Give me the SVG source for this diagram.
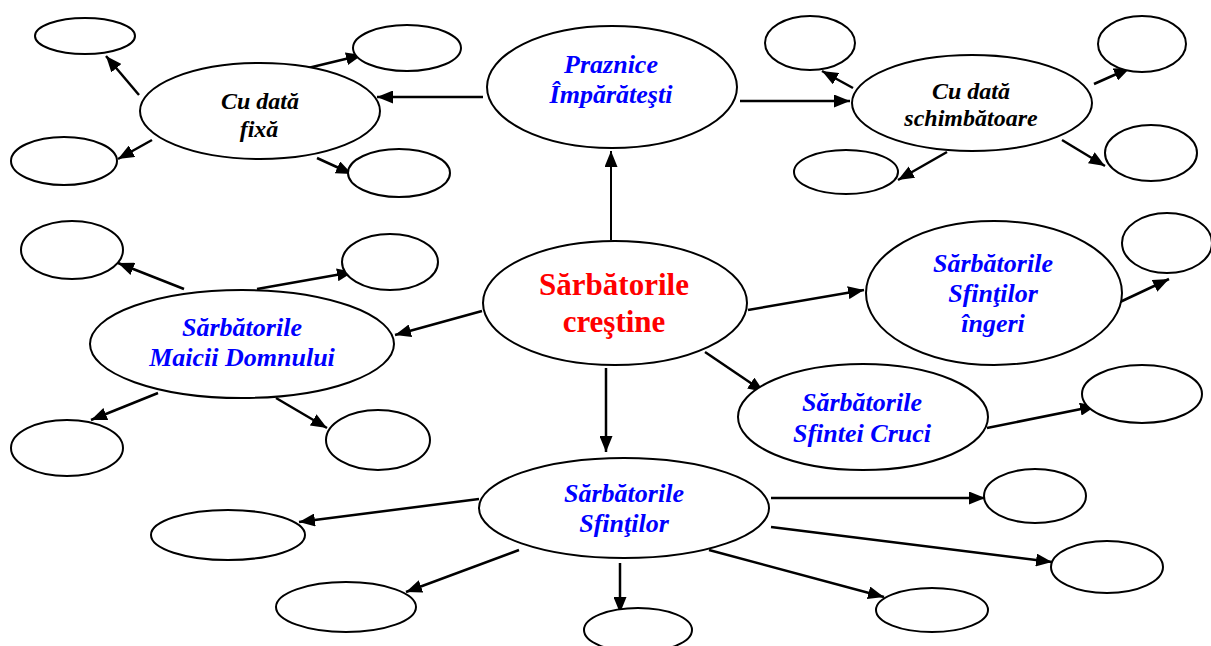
<svg xmlns="http://www.w3.org/2000/svg" width="1211" height="646" viewBox="0 0 1211 646">
<style>
.n{fill:#fff;stroke:#000;stroke-width:2}
.c line{stroke:#000;stroke-width:2.5;marker-end:url(#ah)}
text{font-family:"Liberation Serif","Times New Roman",serif;font-weight:bold;text-anchor:middle}
.b{font-style:italic;font-size:26px;fill:#0000ff}
.k{font-style:italic;font-size:24px;fill:#000}
.r{font-size:31px;fill:#ff0000}
</style>
<defs>
<marker id="ah" markerUnits="userSpaceOnUse" markerWidth="16" markerHeight="13" refX="16" refY="6.5" orient="auto">
<path d="M0,0 L16,6.5 L0,13 z" fill="#000"/>
</marker>
</defs>
<rect width="1211" height="646" fill="#fff"/>
<g id="connectors" class="c">
<line x1="483" y1="97" x2="377" y2="97"/>
<line x1="740" y1="101" x2="850" y2="101"/>
<line x1="611" y1="240" x2="611" y2="151" style="stroke-width:2"/>
<line x1="139" y1="95" x2="106" y2="56"/>
<line x1="308" y1="68" x2="362" y2="55"/>
<line x1="152" y1="140" x2="118" y2="159"/>
<line x1="317" y1="158" x2="352" y2="174"/>
<line x1="853" y1="88" x2="822" y2="71"/>
<line x1="1094" y1="84" x2="1130" y2="68"/>
<line x1="947" y1="152" x2="898" y2="180"/>
<line x1="1062" y1="140" x2="1105" y2="166"/>
<line x1="482" y1="311" x2="395" y2="335"/>
<line x1="184" y1="289" x2="118" y2="263"/>
<line x1="257" y1="289" x2="353" y2="272"/>
<line x1="158" y1="393" x2="91" y2="420"/>
<line x1="276" y1="398" x2="327" y2="428"/>
<line x1="748" y1="310" x2="864" y2="290"/>
<line x1="705" y1="352" x2="764" y2="392"/>
<line x1="606" y1="368" x2="606" y2="452"/>
<line x1="1120" y1="302" x2="1169" y2="279"/>
<line x1="987" y1="428" x2="1096" y2="406"/>
<line x1="479" y1="499" x2="299" y2="522"/>
<line x1="519" y1="550" x2="406" y2="592"/>
<line x1="620" y1="563" x2="620" y2="613"/>
<line x1="709" y1="550" x2="884" y2="597"/>
<line x1="771" y1="498" x2="985" y2="498"/>
<line x1="771" y1="527" x2="1052" y2="562"/>
</g>
<g id="praznice"><ellipse class="n" cx="612" cy="87" rx="125" ry="61"/><text class="b" x="611" y="73">Praznice</text><text class="b" x="611" y="103">Împărăteşti</text></g>
<g id="fixa"><ellipse class="n" cx="260" cy="111" rx="120" ry="48"/><text class="k" x="260" y="109">Cu dată</text><text class="k" x="259" y="137">fixă</text></g>
<g id="schimb"><ellipse class="n" cx="972" cy="103" rx="120" ry="48"/><text class="k" x="971" y="99">Cu dată</text><text class="k" x="971" y="126">schimbătoare</text></g>
<g id="crestine"><ellipse class="n" cx="615" cy="303" rx="132" ry="62"/><text class="r" x="614" y="295">Sărbătorile</text><text class="r" x="614" y="332">creştine</text></g>
<g id="ingeri"><ellipse class="n" cx="994" cy="293" rx="128" ry="72"/><text class="b" x="993" y="272">Sărbătorile</text><text class="b" x="993" y="302">Sfinţilor</text><text class="b" x="993" y="332">îngeri</text></g>
<g id="cruci"><ellipse class="n" cx="863" cy="417" rx="125" ry="53"/><text class="b" x="862" y="411">Sărbătorile</text><text class="b" x="862" y="442">Sfintei Cruci</text></g>
<g id="maicii"><ellipse class="n" cx="242" cy="344" rx="152" ry="54"/><text class="b" x="242" y="336">Sărbătorile</text><text class="b" x="242" y="366">Maicii Domnului</text></g>
<g id="sfintilor"><ellipse class="n" cx="624" cy="508" rx="145" ry="50"/><text class="b" x="624" y="502">Sărbătorile</text><text class="b" x="624" y="532">Sfinţilor</text></g>
<g id="e1"><ellipse class="n" cx="85" cy="36" rx="50" ry="18"/></g>
<g id="e2"><ellipse class="n" cx="407" cy="48" rx="54" ry="23"/></g>
<g id="e3"><ellipse class="n" cx="64" cy="161" rx="53" ry="24"/></g>
<g id="e4"><ellipse class="n" cx="399" cy="173" rx="51" ry="24"/></g>
<g id="e5"><ellipse class="n" cx="810" cy="43" rx="45" ry="27"/></g>
<g id="e6"><ellipse class="n" cx="1142" cy="44" rx="44" ry="28"/></g>
<g id="e7"><ellipse class="n" cx="1151" cy="153" rx="46" ry="28"/></g>
<g id="e8"><ellipse class="n" cx="846" cy="172" rx="52" ry="22"/></g>
<g id="e9"><ellipse class="n" cx="72" cy="250" rx="51" ry="29"/></g>
<g id="e10"><ellipse class="n" cx="390" cy="262" rx="48" ry="28"/></g>
<g id="e11"><ellipse class="n" cx="67" cy="448" rx="56" ry="28"/></g>
<g id="e12"><ellipse class="n" cx="378" cy="440" rx="52" ry="30"/></g>
<g id="e13"><ellipse class="n" cx="1167" cy="243" rx="45" ry="30"/></g>
<g id="e14"><ellipse class="n" cx="1142" cy="394" rx="60" ry="29"/></g>
<g id="e15"><ellipse class="n" cx="228" cy="535" rx="77" ry="25"/></g>
<g id="e16"><ellipse class="n" cx="346" cy="607" rx="70" ry="25"/></g>
<g id="e17"><ellipse class="n" cx="638" cy="630" rx="54" ry="22"/></g>
<g id="e18"><ellipse class="n" cx="932" cy="610" rx="56" ry="22"/></g>
<g id="e19"><ellipse class="n" cx="1035" cy="496" rx="51" ry="27"/></g>
<g id="e20"><ellipse class="n" cx="1107" cy="567" rx="56" ry="26"/></g>
</svg>
